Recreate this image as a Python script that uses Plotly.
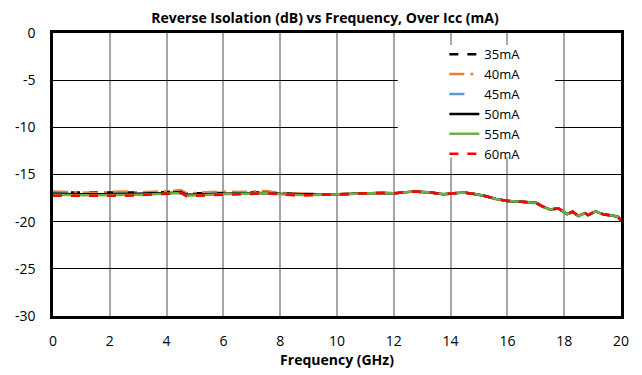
import plotly.graph_objects as go

freq = [0, 0.5, 1, 1.5, 2, 2.5, 3, 3.5, 4, 4.3, 4.5, 4.7, 5, 5.5, 6, 6.5, 7, 7.5, 8, 8.5, 9, 9.5, 10,
        10.5, 11, 11.5, 12, 12.4, 12.7, 13, 13.3, 13.75, 14, 14.45, 14.9, 15.25, 15.6, 16,
        16.5, 17, 17.25, 17.5, 17.8, 18.1, 18.3, 18.5, 18.73, 18.85, 19.1, 19.4, 19.7, 19.9, 20]

tail = [-17.1, -17.05, -17.0, -16.95, -17.0, -16.9, -16.8, -16.85, -16.9, -17.1, -17.0, -16.9, -17.1, -17.3, -17.6, -17.8,
        -17.9, -18.0, -18.4, -18.7, -18.6, -19.2, -18.95, -19.4, -19.1, -19.3, -18.9, -19.25, -19.35, -19.5, -19.9]

s35 = [-16.9, -16.9, -16.95, -16.9, -16.95, -16.9, -16.95, -16.9, -16.85, -16.8, -16.75, -17.0, -17.0, -16.95, -16.95, -16.9, -16.9, -16.9, -17.0, -17.05, -17.1, -17.1] + tail
s40 = [-16.8, -16.85, -16.9, -16.95, -16.85, -16.8, -16.9, -16.85, -16.8, -16.7, -16.65, -17.0, -16.95, -16.9, -16.8, -16.85, -16.8, -16.75, -16.95, -17.0, -17.1, -17.1] + tail
s45 = [-17.0, -17.05, -17.05, -17.1, -17.05, -17.05, -17.0, -17.0, -16.95, -16.9, -16.85, -17.1, -17.1, -17.05, -17.0, -17.0, -16.95, -16.95, -17.05, -17.1, -17.15, -17.15] + tail
s50 = [-17.05, -17.1, -17.1, -17.1, -17.1, -17.05, -17.05, -17.0, -17.0, -16.9, -16.85, -17.15, -17.15, -17.1, -17.05, -17.0, -17.0, -16.95, -17.05, -17.1, -17.15, -17.15] + tail
s55 = [-17.15, -17.2, -17.2, -17.2, -17.2, -17.15, -17.15, -17.1, -17.05, -17.0, -16.95, -17.25, -17.2, -17.15, -17.1, -17.05, -17.0, -17.0, -17.1, -17.15, -17.2, -17.15] + tail
s60 = [-17.25, -17.25, -17.3, -17.3, -17.3, -17.25, -17.2, -17.15, -17.1, -17.0, -16.95, -17.3, -17.25, -17.2, -17.1, -17.1, -17.0, -17.0, -17.1, -17.2, -17.2, -17.15] + tail

names = ["35mA", "40mA", "45mA", "50mA", "55mA", "60mA"]
series = [s35, s40, s45, s50, s55, s60]
colors = ["#000000", "#ED7D31", "#5B9BD5", "#000000", "#70AD47", "#FF0000"]
dashes = ["dash", "longdashdot", "longdash", "solid", "solid", "dash"]

xticks = [0, 2, 4, 6, 8, 10, 12, 14, 16, 18, 20]
yticks = [0, -5, -10, -15, -20, -25, -30]
ytick_labels = ["0", "-5", "-10", "-15", "-20", "-25", "-30"]

fig = go.Figure()
for n, s, c, d in zip(names, series, colors, dashes):
    fig.add_trace(go.Scatter(x=freq, y=s, name=n, mode="lines",
                             line=dict(color=c, dash=d, width=2.5)))

font = "Open Sans"
fig.update_layout(
    width=634, height=367,
    paper_bgcolor="white", plot_bgcolor="white",
    margin=dict(l=45, r=21, t=25, b=59, autoexpand=False),
    title=dict(text="<b>Reverse Isolation (dB) vs Frequency, Over Icc (mA)</b>",
               x=0.5, xanchor="center", y=0.985, yanchor="top",
               font=dict(family=font, size=14, color="black")),
    font=dict(family=font, size=14, color="black"),
    showlegend=True,
    legend=dict(x=0.689, y=0.978, xanchor="left", yanchor="top",
                bgcolor="rgba(0,0,0,0)", font=dict(family=font, size=13),
                tracegroupgap=0),
    shapes=[dict(type="rect", xref="paper", yref="paper", x0=0.607, x1=0.884, y0=0.56, y1=0.958,
                 fillcolor="white", line=dict(width=0), layer="above")],
)
fig.update_xaxes(range=[0, 20], tickvals=xticks, showgrid=True, gridcolor="#A6A6A6", gridwidth=1.5,
                 showline=True, linecolor="black", linewidth=2.5, mirror=True,
                 ticks="", zeroline=False, ticklabelstandoff=10,
                 title=dict(text="<b>Frequency (GHz)</b>", font=dict(family=font, size=14), standoff=2))
fig.update_yaxes(range=[-30, 0], tickvals=yticks, ticktext=ytick_labels, showgrid=True,
                 gridcolor="black", gridwidth=1,
                 showline=True, linecolor="black", linewidth=2.5, mirror=True,
                 ticks="", zeroline=False, ticklabelstandoff=12)

fig.write_html("out.html")
